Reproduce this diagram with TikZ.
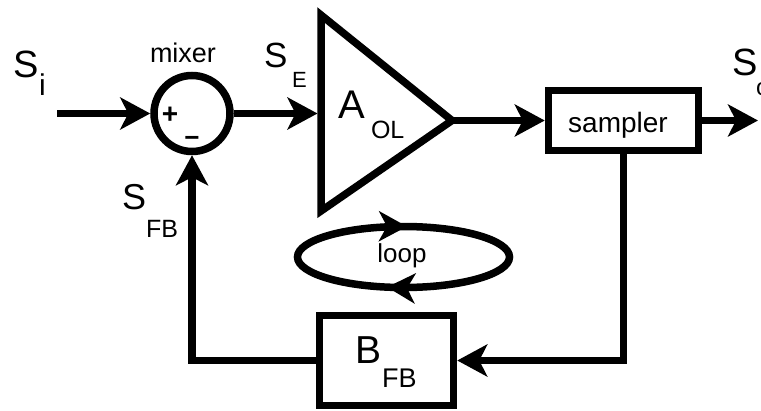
\documentclass[tikz,border=0pt]{standalone}
\usepackage{fontspec}
\setmainfont{Liberation Sans}
\usetikzlibrary{arrows.meta,decorations.markings}
\newcommand{\fsz}[1]{\fontsize{#1}{#1}\selectfont}
\begin{document}
\begin{tikzpicture}[x=1pt,y=-1pt,
  conn/.style={line width=7.5pt},
  tipstyle/.style={-{Stealth[length=30pt,width=32pt,inset=8pt]}},
  arr/.style={conn,tipstyle},
  blk/.style={draw,line width=7.5pt,inner sep=0pt,rectangle},
  lbl/.style={inner sep=0pt,outer sep=0pt},
]
\useasboundingbox (0,0) rectangle (761,410);

% blocks
\node[draw,circle,line width=7.5pt,minimum size=76pt,inner sep=0pt] (mixer) at (192,113.5) {};
\coordinate (aTop) at (321,15);
\coordinate (aBot) at (321,211);
\coordinate (aTip) at (452,120.5);
\draw[line width=7.5pt] (aTop) -- (aTip) -- (aBot) -- cycle;
\coordinate (ampIn) at (317.5,113.5);
\node[blk,minimum width=150pt,minimum height=60pt] (sampler) at (623.5,120.5) {};
\node[blk,minimum width=134pt,minimum height=90pt] (bfb) at (386.5,360.5) {};
\coordinate (in) at (57,113.5);
\coordinate (out) at (758,120.5);

% connectors
\draw[arr] (in) -- (mixer.west);
\draw[arr] (mixer.east) -- (ampIn);
\draw[arr] (aTip) -- (sampler.west);
\draw[arr] (sampler.east) -- (out);
\draw[arr] (sampler.south) |- (bfb.east);
\draw[arr] (bfb.west) -| (mixer.south);

% loop
\draw[line width=7.5pt, postaction={decorate},
  decoration={markings,
    mark=at position 0.2855 with {\arrow{Stealth[length=28pt,width=30pt,inset=8pt]}},
    mark=at position 0.7575 with {\arrow{Stealth[length=28pt,width=30pt,inset=8pt]}}}]
  (403.5,257) ellipse (106 and 30.5);
\node[lbl,anchor=base,font=\fsz{26}] (looplbl) at (402,262) {loop};

% labels
\node[lbl,anchor=base west,font=\fsz{38}] (si) at (13,77) {S};
\node[lbl,anchor=base west,font=\fsz{30}] (sisub) at (39,95) {i};
\node[lbl,anchor=base west,font=\fsz{35}] (se) at (264,67) {S};
\node[lbl,anchor=base west,font=\fsz{22}] (sesub) at (292,87) {E};
\node[lbl,anchor=base west,font=\fsz{36}] (sfb) at (122,209) {S};
\node[lbl,anchor=base west,font=\fsz{25}] (sfbsub) at (146,237) {FB};
\node[lbl,anchor=base west,font=\fsz{38}] (so) at (732,75) {S};
\node[lbl,anchor=base west,font=\fsz{24}] (sosub) at (756,95) {o};
\node[lbl,anchor=base,font=\fsz{27}] (mixlbl) at (183,62) {mixer};
\node[lbl,anchor=base west,font=\fsz{40}] (aol) at (338,118) {A};
\node[lbl,anchor=base west,font=\fsz{25}] (aolsub) at (371,138) {OL};
\node[lbl,anchor=base,font=\fsz{28}] (samplbl) at (618,132) {sampler};
\node[lbl,anchor=base west,font=\fsz{39}] (bfbl) at (355,363) {B};
\node[lbl,anchor=base west,font=\fsz{27}] (bfbsub) at (382,387) {FB};
\node[lbl,anchor=base,font=\bfseries\fsz{28}] (plus) at (170,123) {+};
\node[lbl,anchor=base,font=\bfseries\fsz{26}] (minus) at (192,146) {−};
\end{tikzpicture}
\end{document}
